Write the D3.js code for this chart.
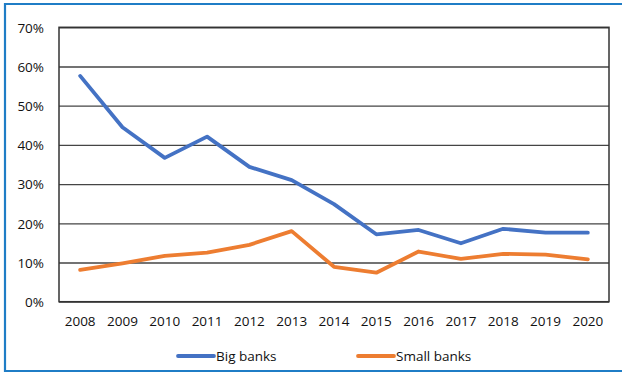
<!DOCTYPE html>
<html>
<head>
<meta charset="utf-8">
<script src="https://cdn.jsdelivr.net/npm/d3@7"></script>
<style>
  html, body { margin: 0; padding: 0; background: #fff; }
  svg { display: block; }
  text { font-family: "Open Sans", "Noto Sans", sans-serif; fill: #111; }
</style>
</head>
<body>
<svg id="chart" width="622" height="373"></svg>
<script>
// Share of lending by bank size, 2008–2020
const years = ["2008","2009","2010","2011","2012","2013","2014","2015","2016","2017","2018","2019","2020"];
const bigBanks = [57.6, 44.5, 36.7, 42.1, 34.4, 31.0, 24.9, 17.2, 18.3, 14.9, 18.6, 17.6, 17.6];
const smallBanks = [8.1, 9.8, 11.7, 12.5, 14.5, 18.0, 8.9, 7.4, 12.8, 10.9, 12.2, 12.0, 10.8];
const yTicks = [0, 10, 20, 30, 40, 50, 60, 70];
const seriesNames = ["Big banks", "Small banks"];
const seriesColors = ["#4472C4", "#ED7D31"];

const svg = d3.select("#chart");
const W = 622, H = 373;
const plot = { left: 59, right: 609, top: 27.3, bottom: 301.7 };

// outer frame
svg.append("path")
  .attr("d", `M${W + 2},4 H5 V371 H${W + 2}`)
  .attr("fill", "none")
  .attr("stroke", "#1F7DC6")
  .attr("stroke-width", 2.2);

const x = d3.scaleBand().domain(years).range([plot.left, plot.right]);
const y = d3.scaleLinear().domain([0, 70]).range([plot.bottom, plot.top]);

// horizontal gridlines
const yAxis = d3.axisLeft(y).tickValues(yTicks).tickSize(-(plot.right - plot.left)).tickFormat(d => d + "%");
const gy = svg.append("g").attr("transform", `translate(${plot.left},0)`).call(yAxis);
gy.select(".domain").remove();
gy.selectAll(".tick line").attr("stroke", "#454545").attr("stroke-width", 1.3);
gy.selectAll(".tick text")
  .attr("x", -15)
  .attr("dy", "0.35em")
  .style("font-size", "13.5px");

// plot border
svg.append("rect")
  .attr("x", plot.left).attr("y", plot.top)
  .attr("width", plot.right - plot.left).attr("height", plot.bottom - plot.top)
  .attr("fill", "none").attr("stroke", "#333").attr("stroke-width", 1.5);

// category axis
const xAxis = d3.axisBottom(x).tickSize(0);
const gx = svg.append("g").attr("transform", `translate(0,${plot.bottom})`).call(xAxis);
gx.select(".domain").remove();
gx.selectAll(".tick text")
  .attr("y", 20)
  .attr("dy", "0.35em")
  .style("font-size", "13.5px");

// series lines
const line = d3.line()
  .x((d, i) => x(years[i]) + x.bandwidth() / 2)
  .y(d => y(d));

[bigBanks, smallBanks].forEach((vals, k) => {
  svg.append("path")
    .datum(vals)
    .attr("d", line)
    .attr("fill", "none")
    .attr("stroke", seriesColors[k])
    .attr("stroke-width", 3.8)
    .attr("stroke-linejoin", "round")
    .attr("stroke-linecap", "round");
});

// legend
const legendX = [178, 358];
seriesNames.forEach((name, k) => {
  const g = svg.append("g").attr("transform", `translate(${legendX[k]},356)`);
  g.append("line")
    .attr("x1", 0).attr("x2", 36)
    .attr("stroke", seriesColors[k]).attr("stroke-width", 3.8)
    .attr("stroke-linecap", "round");
  g.append("text")
    .attr("x", 38).attr("dy", "0.35em")
    .style("font-size", "13.5px")
    .text(name);
});
</script>
</body>
</html>
